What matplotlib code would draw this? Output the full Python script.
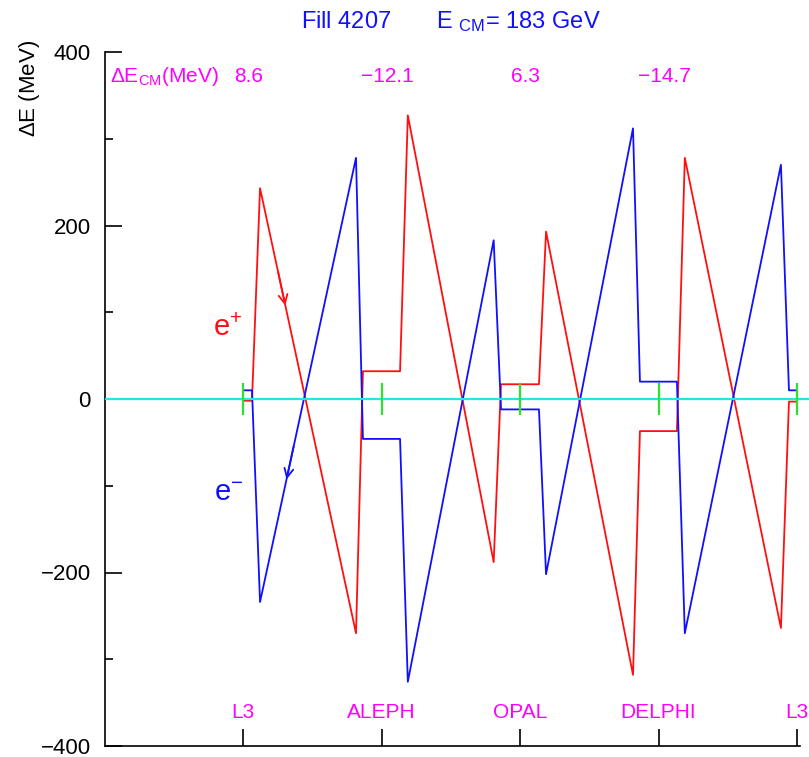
import numpy as np
import matplotlib
matplotlib.use('Agg')
import matplotlib.pyplot as plt

plt.rcParams['font.family'] = ['Liberation Sans', 'DejaVu Sans']
plt.rcParams['mathtext.fontset'] = 'custom'
plt.rcParams['mathtext.rm'] = 'Liberation Sans'
plt.rcParams['mathtext.it'] = 'Liberation Sans'

# positions along the ring (IP number), common to both beams
s = [1.0, 1.065, 1.123, 1.816, 1.866, 2.134, 2.19, 2.81, 2.863, 3.137,
     3.188, 3.816, 3.866, 4.133, 4.19, 4.884, 4.942, 5.0]
# energy deviation (MeV)
e_plus = [-2, -2, 243, -270, 32, 32, 327, -188, 17, 17,
          193, -318, -37, -37, 278, -264, -3, -3]
e_minus = [10, 10, -234, 278, -46, -46, -326, 183, -12, -12,
           -202, 312, 20, 20, -270, 270, 10, 10]

ip_pos = [1, 2, 3, 4, 5]
ip_names = ['L3', 'ALEPH', 'OPAL', 'DELPHI', 'L3']
dE_cm = ['8.6', '\u221212.1', '6.3', '\u221214.7']

RED = '#ff1010'
BLUE = '#1010ff'
MAG = '#ff00ff'


def main():
    fig = plt.figure(figsize=(8.09, 7.57), dpi=100)
    ax = fig.add_axes([104.5 / 809, 11 / 757, (809 - 104.5) / 809, 694 / 757])

    ax.plot(s, e_plus, color=RED, lw=1.3, zorder=2)
    ax.plot(s, e_minus, color=BLUE, lw=1.3, zorder=2)
    ax.axhline(0, color='#20e8e8', lw=1.6, zorder=3)
    ax.vlines(ip_pos, -19, 19, color='#30e030', lw=1.6, zorder=4)

    # direction arrows
    a0, a1 = 1.25, 1.31
    ax.annotate('', xy=(a1, np.interp(a1, s, e_plus)), xytext=(a0, np.interp(a0, s, e_plus)),
                arrowprops=dict(arrowstyle='->', color=RED, lw=1.3, mutation_scale=16))
    b0, b1 = 1.37, 1.31
    ax.annotate('', xy=(b1, np.interp(b1, s, e_minus)), xytext=(b0, np.interp(b0, s, e_minus)),
                arrowprops=dict(arrowstyle='->', color=BLUE, lw=1.3, mutation_scale=16))

    ax.text(0.89, 82, r'e$^{+}$', color=RED, fontsize=21, ha='center', va='center')
    ax.text(0.9, -108, r'e$^{-}$', color=BLUE, fontsize=21, ha='center', va='center')

    # detector labels and delta E_CM
    for x, name in zip(ip_pos, ip_names):
        ax.text(x, -361, name, color=MAG, fontsize=15, ha='center', va='center')
    ax.text(0.04, 372, r'$\Delta$E$_{\rm CM}$(MeV)', color=MAG, fontsize=15, ha='left', va='center')
    for x, v in zip(ip_pos[:4], dE_cm):
        ax.text(x + 0.04, 372, v, color=MAG, fontsize=15, ha='center', va='center')

    ax.set_xlim(0, (809 - 104.5) / 138.5)
    ax.set_ylim(-400, 400)
    ax.spines['top'].set_visible(False)
    ax.spines['right'].set_visible(False)
    ax.spines['bottom'].set_bounds(0, 5.02)
    ax.set_xticks(ip_pos)
    ax.set_xticklabels([])
    ax.set_yticks([-400, -200, 0, 200, 400])
    ax.set_yticklabels(['\u2212400', '\u2212200', '0', '200', '400'])
    ax.set_yticks([-300, -100, 100, 300], minor=True)
    ax.tick_params(axis='both', which='major', direction='in', length=12, width=1.2, labelsize=16, pad=10)
    ax.tick_params(axis='y', which='minor', direction='in', length=6, width=1.2)
    for sp in ax.spines.values():
        sp.set_linewidth(1.2)

    fig.text(451 / 809, 1 - 28 / 757, r'Fill 4207       E $_{\rm CM}$= 183 GeV',
             color=BLUE, fontsize=17, ha='center', va='baseline')
    fig.text(29 / 809, 1 - 40 / 757, r'$\Delta$E (MeV)', fontsize=16, rotation=90,
             ha='center', va='top')

    fig.savefig('out.png', dpi=100)


if __name__ == '__main__':
    main()
